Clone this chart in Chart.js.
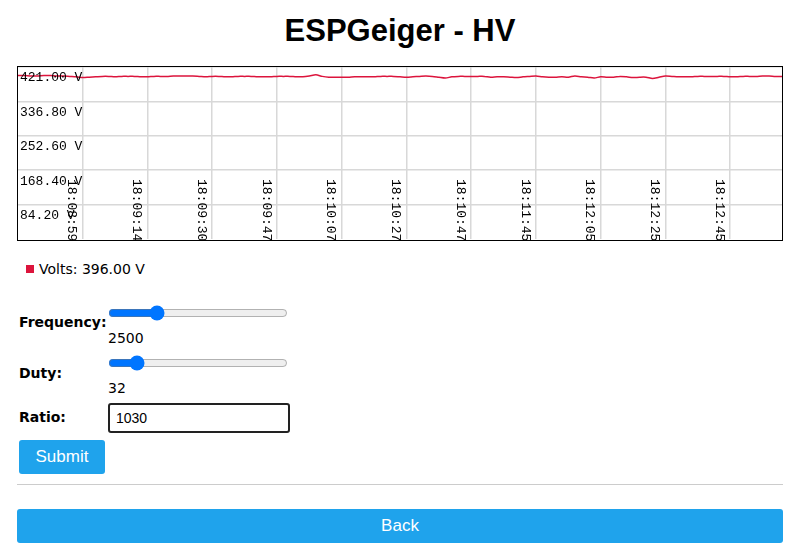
<!DOCTYPE html>
<html><head><meta charset="utf-8">
<script src="https://cdn.jsdelivr.net/npm/chart.js@4"></script>
<style>
body{margin:0;width:800px;height:556px;position:relative;font-family:"DejaVu Sans",Verdana,sans-serif;font-size:14px;color:#000;background:#fff;overflow:hidden}
.a{position:absolute}
h1{position:absolute;left:0;width:800px;top:13px;margin:0;text-align:center;font-family:"Liberation Sans",Arial,sans-serif;font-weight:bold;font-size:31px}
#box{position:absolute;left:17px;top:66px;width:764px;height:173px;border:1px solid #000}
label{font-weight:bold;font-size:14px}
input[type=range]{position:absolute;width:180px;margin:0;accent-color:#0075ff}
.btn{position:absolute;background:#1fa3ec;color:#fff;border:0;border-radius:3px;font-family:"Liberation Sans",Arial,sans-serif;font-size:17px;text-align:center}
</style></head><body>
<h1>ESPGeiger - HV</h1>
<div id="box"><canvas id="c" width="764" height="173"></canvas></div>
<div class="a" style="left:26px;top:265px;width:8px;height:8px;background:#dc143c"></div>
<div class="a" style="left:39px;top:261px">Volts: 396.00 V</div>
<label class="a" style="left:19px;top:314px">Frequency:</label>
<input type="range" min="0" max="10000" value="2500" style="left:108px;top:305px">
<div class="a" style="left:108px;top:330px">2500</div>
<label class="a" style="left:19px;top:365px">Duty:</label>
<input type="range" min="0" max="255" value="32" style="left:108px;top:355px">
<div class="a" style="left:108px;top:380px">32</div>
<label class="a" style="left:19px;top:409px">Ratio:</label>
<div class="a" style="left:108px;top:403px;height:26px;border:2px solid #222;border-radius:3px;font-family:'Liberation Sans',Arial;font-size:14px;line-height:26px;padding-left:6px;width:172px">1030</div>
<div class="btn" style="left:19px;top:440px;width:86px;height:34px;line-height:34px">Submit</div>
<div class="a" style="left:17px;top:484px;width:766px;height:1px;background:#ccc"></div>
<div class="btn" style="left:17px;top:509px;width:766px;height:34px;line-height:34px">Back</div>
<script>
const tickLabels=["18:08:59","18:09:14","18:09:30","18:09:47","18:10:07","18:10:27","18:10:47","18:11:45","18:12:05","18:12:25","18:12:45"];
const yTicks=[421.00,336.80,252.60,168.40,84.20];
const volts=[
400,400,399,399,400,400,399,399,398,397,
395,396,397,398,398,397,398,398,398,397,
397,398,398,398,399,399,399,399,398,397,
398,398,397,397,398,398,398,397,397,397,
398,398,398,397,397,399,402,398,396,396,
396,396,397,397,397,397,398,398,398,397,
396,397,398,399,398,396,394,397,398,398,
398,398,398,396,397,397,396,395,397,398,
399,397,396,396,397,396,399,397,396,394,
397,396,396,398,397,395,396,396,393,396,
399,398,397,397,397,398,398,398,398,398,
397,397,398,398,398,399,399,398,398
];
const labels=volts.map((v,i)=>(i%10===0&&i/10>=1&&i/10<=tickLabels.length)?tickLabels[i/10-1]:'');
const maxV=yTicks[0];
const drawLabels={id:'dl',afterDraw(ch){
 const c=ch.ctx,x=ch.scales.x,y=ch.scales.y;c.save();c.fillStyle='#000';c.font='13px "Liberation Mono","DejaVu Sans Mono",monospace';
 c.textBaseline='middle';c.textAlign='left';
 yTicks.forEach(t=>c.fillText(t.toFixed(2)+' V',2,y.getPixelForValue(t)+11));
 labels.forEach((l,i)=>{if(!l)return;const px=x.getPixelForValue(i);c.save();c.translate(px-11,112);c.rotate(Math.PI/2);c.textAlign='left';c.fillText(l,0,0);c.restore();});
 c.restore();}};
new Chart(document.getElementById('c'),{type:'line',
 data:{labels,datasets:[{data:volts,borderColor:'#dc143c',borderWidth:1.5,pointRadius:0,tension:0.3}]},
 options:{responsive:false,animation:false,layout:{padding:0},plugins:{legend:{display:false},tooltip:{enabled:false}},
 scales:{x:{offset:false,border:{display:false},grid:{color:'#d8d8d8',lineWidth:1.5,drawTicks:false},ticks:{display:true,autoSkip:false,maxRotation:0,padding:0,font:{size:1},color:'rgba(0,0,0,0)',callback:(v,i)=>labels[i]?labels[i]:null}},
  y:{min:0,max:maxV,border:{display:false},afterBuildTicks:s=>{s.ticks=yTicks.map(v=>({value:v}));},grid:{color:'#d8d8d8',lineWidth:1.5,drawTicks:false},ticks:{display:false}}}},
 plugins:[drawLabels]});
</script>
</body></html>
